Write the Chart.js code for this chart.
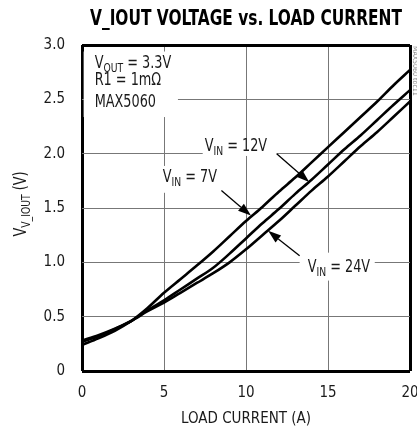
<!DOCTYPE html>
<html>
<head>
<meta charset="utf-8">
<script src="https://cdn.jsdelivr.net/npm/chart.js@4.4.0/dist/chart.umd.min.js"></script>
<style>
html,body{margin:0;padding:0;background:#fff;overflow:hidden}
canvas{display:block}
</style>
</head>
<body>
<canvas id="chart" width="417" height="434"></canvas>
<script>
// load current (A)
var current = [0,1,2,3,4,5,6,7,8,9,10,11,12,13,14,15,16,17,18,19,20]
// V_IOUT (V) for each input voltage
var vin7  = [0.24,0.30,0.37,0.46,0.58,0.72,0.845,0.97,1.10,1.24,1.38,1.51,1.65,1.78,1.92,2.06,2.20,2.34,2.48,2.63,2.77]
var vin12 = [0.28,0.33,0.39,0.46,0.56,0.65,0.75,0.85,0.95,1.08,1.22,1.36,1.49,1.63,1.76,1.90,2.04,2.17,2.31,2.45,2.585]
var vin24 = [0.27,0.32,0.385,0.46,0.55,0.63,0.72,0.81,0.90,1.00,1.12,1.25,1.38,1.52,1.66,1.79,1.93,2.07,2.20,2.34,2.48]

var xTicks = [0,5,10,15,20]
var yTicks = [0,0.5,1.0,1.5,2.0,2.5,3.0]

var FONT = '"Liberation Sans Narrow", "DejaVu Sans Condensed", "Arial Narrow", sans-serif'
var INK = '#1a1a1a'
var SQUEEZE = 0.84   // narrows the fallback font for hand drawn text

function points(ys){
    return current.map(function(x,i){ return {x:x, y:ys[i]} })
}

function line(ys){
    return {
        data: points(ys),
        borderColor: '#000',
        borderWidth: 2.6,
        pointRadius: 0,
        fill: false,
        cubicInterpolationMode: 'monotone'
    }
}

// text with subscripts, parts = [[text, isSub], ...]
function richWidth(ctx, parts, size){
    var w = 0
    parts.forEach(function(p){
        ctx.font = (p[1] ? size*0.72 : size) + 'px ' + FONT
        w += ctx.measureText(p[0]).width
    })
    return w
}

function rich(ctx, x, y, parts, size){
    ctx.save()
    ctx.translate(x, y)
    ctx.scale(SQUEEZE, 1)
    var cx = 0
    parts.forEach(function(p){
        var s = p[1] ? size*0.72 : size
        ctx.font = s + 'px ' + FONT
        ctx.fillText(p[0], cx, p[1] ? size*0.22 : 0)
        cx += ctx.measureText(p[0]).width
    })
    ctx.restore()
}

function arrow(ctx, x1, y1, x2, y2){
    var a = Math.atan2(y2-y1, x2-x1)
    var L = 13, W = 4.5
    ctx.strokeStyle = '#000'
    ctx.lineWidth = 1.3
    ctx.beginPath()
    ctx.moveTo(x1,y1)
    ctx.lineTo(x2 - L*Math.cos(a), y2 - L*Math.sin(a))
    ctx.stroke()
    ctx.fillStyle = '#000'
    ctx.beginPath()
    ctx.moveTo(x2,y2)
    ctx.lineTo(x2 - L*Math.cos(a) + W*Math.sin(a), y2 - L*Math.sin(a) - W*Math.cos(a))
    ctx.lineTo(x2 - L*Math.cos(a) - W*Math.sin(a), y2 - L*Math.sin(a) + W*Math.cos(a))
    ctx.closePath()
    ctx.fill()
}

var decor = {
    id: 'decor',
    afterDraw: function(chart){
        var ctx = chart.ctx
        var xs = chart.scales.x, ys = chart.scales.y
        var X = function(v){ return xs.getPixelForValue(v) }
        var Y = function(v){ return ys.getPixelForValue(v) }
        var area = chart.chartArea
        ctx.save()

        // title
        ctx.fillStyle = '#000'
        ctx.font = 'bold 22px ' + FONT
        var t = 'V_IOUT VOLTAGE vs. LOAD CURRENT'
        var w = ctx.measureText(t).width
        ctx.save()
        ctx.translate((area.left + area.right)/2, 25)
        ctx.scale(312/w, 1)
        ctx.textAlign = 'center'
        ctx.textBaseline = 'alphabetic'
        ctx.fillText(t, 0, 0)
        ctx.restore()

        // y axis title
        ctx.save()
        ctx.fillStyle = INK
        ctx.textAlign = 'left'
        ctx.textBaseline = 'alphabetic'
        ctx.translate(26, 204)
        ctx.rotate(-Math.PI/2)
        var yparts = [['V',0],['V_IOUT',1],[' (V)',0]]
        var tw = richWidth(ctx, yparts, 17) * SQUEEZE
        rich(ctx, -tw/2, 0, yparts, 17)
        ctx.restore()

        // white boxes behind the labels
        ctx.fillStyle = '#fff'
        var boxes = [[0.1,5.85,2.94,2.337],[7.36,11.87,2.144,1.979],[4.74,8.27,1.887,1.64],[13.27,17.85,1.089,0.832]]
        boxes.forEach(function(b){
            ctx.fillRect(X(b[0]), Y(b[2]), X(b[1])-X(b[0]), Y(b[3])-Y(b[2]))
        })

        ctx.fillStyle = INK
        ctx.textAlign = 'left'
        ctx.textBaseline = 'alphabetic'
        rich(ctx, X(0.77), Y(2.79), [['V',0],['OUT',1],[' = 3.3V',0]], 17)
        rich(ctx, X(0.77), Y(2.63), [['R1 = 1m\u03A9',0]], 17)
        rich(ctx, X(0.77), Y(2.43), [['MAX5060',0]], 17)
        rich(ctx, X(7.48), Y(2.02), [['V',0],['IN',1],[' = 12V',0]], 17)
        rich(ctx, X(4.92), Y(1.74), [['V',0],['IN',1],[' = 7V',0]], 17)
        rich(ctx, X(13.76), Y(0.91), [['V',0],['IN',1],[' = 24V',0]], 17)

        arrow(ctx, X(11.87), Y(2.0), X(13.85), Y(1.74))
        arrow(ctx, X(8.5), Y(1.66), X(10.3), Y(1.43))
        arrow(ctx, X(13.27), Y(1.06), X(11.35), Y(1.29))

        // document id along the right edge
        ctx.save()
        ctx.fillStyle = '#888'
        ctx.font = '7px ' + FONT
        ctx.translate(413, 46)
        ctx.rotate(Math.PI/2)
        ctx.fillText('MAX5060 toc11', 0, 0)
        ctx.restore()

        ctx.restore()
    }
}

function edge(scale, v){
    return v === scale.min || v === scale.max
}

var ctx = document.getElementById('chart').getContext('2d')
var chart = new Chart(ctx, {
    type: 'line',
    data: {
        datasets: [line(vin7), line(vin12), line(vin24)]
    },
    options: {
        responsive: false,
        animation: false,
        devicePixelRatio: 1,
        layout: { padding: { left: 0, top: 45, right: 7, bottom: 0 } },
        plugins: {
            legend: { display: false },
            title: { display: false },
            tooltip: { enabled: false }
        },
        scales: {
            x: {
                type: 'linear',
                min: 0,
                max: 20,
                afterBuildTicks: function(s){ s.ticks = xTicks.map(function(v){ return {value:v} }) },
                ticks: {
                    color: INK,
                    padding: 13,
                    maxRotation: 0,
                    autoSkip: false,
                    font: { family: FONT, size: 15 }
                },
                grid: {
                    drawTicks: false,
                    color: function(c){ return edge(c.scale, c.tick.value) ? '#000' : '#777' },
                    lineWidth: function(c){ return edge(c.scale, c.tick.value) ? 3 : 1 }
                },
                border: { display: false },
                title: {
                    display: true,
                    text: 'LOAD CURRENT (A)',
                    color: INK,
                    font: { family: FONT, size: 15 },
                    padding: { top: 0, bottom: 6 }
                },
                afterFit: function(s){ s.height = 63; s.paddingLeft = 0; s.paddingRight = 0 }
            },
            y: {
                min: 0,
                max: 3,
                afterBuildTicks: function(s){ s.ticks = yTicks.map(function(v){ return {value:v} }) },
                ticks: {
                    color: INK,
                    padding: 17,
                    font: { family: FONT, size: 15 },
                    callback: function(v){ return v === 0 ? '0' : v.toFixed(1) }
                },
                grid: {
                    drawTicks: false,
                    color: function(c){ return edge(c.scale, c.tick.value) ? '#000' : '#777' },
                    lineWidth: function(c){ return edge(c.scale, c.tick.value) ? 3 : 1 }
                },
                border: { display: false },
                afterFit: function(s){ s.width = 82; s.paddingTop = 0; s.paddingBottom = 0 }
            }
        }
    },
    plugins: [decor]
})
</script>
</body>
</html>
